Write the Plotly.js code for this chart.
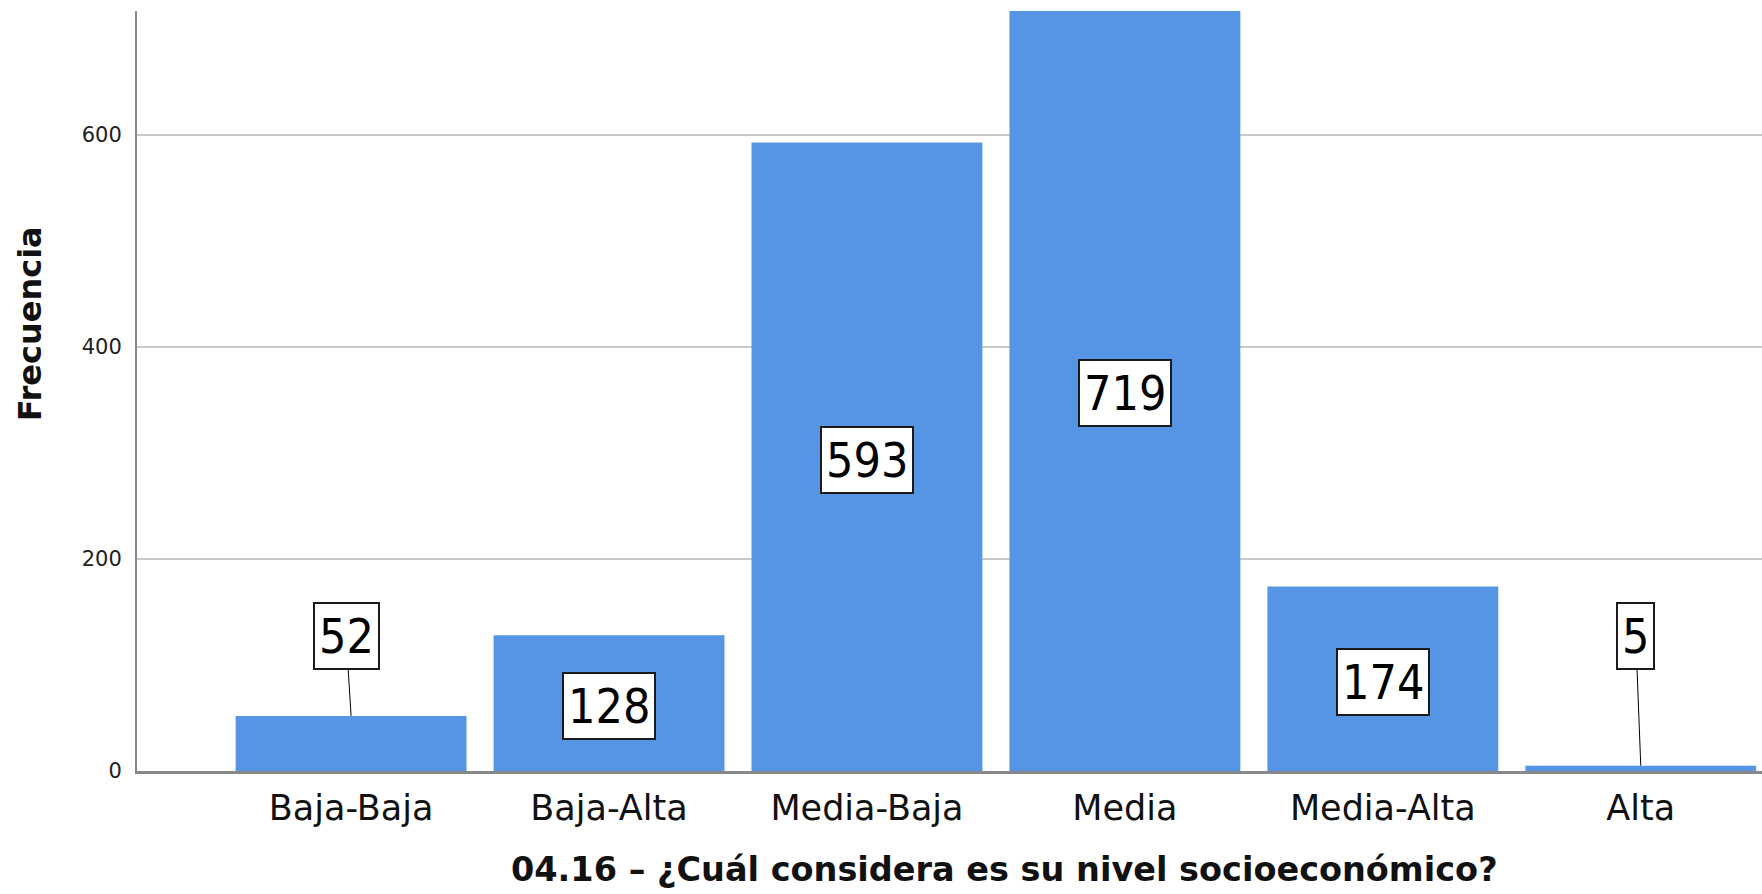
<!doctype html>
<html lang="es">
    <head>
        <meta charset="UTF-8" />
        <title>Nivel socioeconómico</title>
        <script src="https://cdn.plot.ly/plotly-3.0.1.min.js"></script>
        <style>
            body {
                margin: 0;
                background: white;
            }
        </style>
    </head>
    <body>
        <div id="chart"></div>
        <script>
            // Frecuencias por nivel socioeconómico
            const categories = [
                "Baja-Baja",
                "Baja-Alta",
                "Media-Baja",
                "Media",
                "Media-Alta",
                "Alta",
            ];
            const counts = [52, 128, 593, 719, 174, 5];
            const yTicks = [0, 200, 400, 600];

            const barColor = "#5695e3";
            const calloutY = 127; // small bars get their label lifted up here

            const trace = {
                x: categories,
                y: counts,
                type: "bar",
                marker: { color: barColor },
                hoverinfo: "x+y",
            };

            // value labels: inside the bar when it is tall enough, otherwise a callout
            const labels = categories.map((cat, i) => {
                const v = counts[i];
                const base = {
                    x: cat,
                    xref: "x",
                    yref: "y",
                    text: String(v),
                    font: {
                        family: "DejaVu Sans Condensed, DejaVu Sans",
                        size: 48,
                        color: "#000",
                    },
                    bgcolor: "white",
                    bordercolor: "#1a1a1a",
                    borderwidth: 2,
                    borderpad: 4,
                };
                if (v >= 100) {
                    return { ...base, y: v / 2, yshift: -3, showarrow: false };
                }
                return {
                    ...base,
                    y: v,
                    showarrow: true,
                    arrowhead: 0,
                    arrowwidth: 1,
                    arrowcolor: "#000",
                    ax: -5,
                    ayref: "y",
                    ay: calloutY,
                    standoff: 0,
                };
            });

            const layout = {
                width: 1762,
                height: 894,
                margin: { l: 137, r: 0, t: 11, b: 123 },
                paper_bgcolor: "white",
                plot_bgcolor: "white",
                bargap: 0.105,
                showlegend: false,
                xaxis: {
                    type: "category",
                    range: [-0.83, 5.47],
                    showline: true,
                    linecolor: "#888",
                    linewidth: 2.5,
                    showgrid: false,
                    ticks: "outside",
                    ticklen: 4,
                    tickcolor: "rgba(0,0,0,0)",
                    tickfont: { family: "DejaVu Sans", size: 35, color: "#111" },
                },
                yaxis: {
                    range: [0, 717],
                    tickvals: yTicks,
                    showline: true,
                    linecolor: "#888",
                    linewidth: 2,
                    showgrid: true,
                    gridcolor: "#c8c8c8",
                    gridwidth: 1.5,
                    zeroline: false,
                    ticks: "outside",
                    ticklen: 9,
                    tickcolor: "rgba(0,0,0,0)",
                    tickfont: { family: "DejaVu Sans", size: 21, color: "#222" },
                },
                annotations: labels.concat([
                    {
                        text: "Frecuencia",
                        xref: "paper",
                        yref: "paper",
                        x: -0.0657,
                        y: 0.588,
                        xanchor: "center",
                        yanchor: "middle",
                        textangle: -90,
                        showarrow: false,
                        font: { family: "DejaVu Sans", size: 32, color: "#111", weight: "bold" },
                    },
                    {
                        text: "04.16 – ¿Cuál considera es su nivel socioeconómico?",
                        xref: "paper",
                        yref: "paper",
                        x: 0.534,
                        y: -0.13,
                        xanchor: "center",
                        yanchor: "middle",
                        showarrow: false,
                        font: { family: "DejaVu Sans", size: 33.5, color: "#111", weight: "bold" },
                    },
                ]),
            };

            Plotly.newPlot("chart", [trace], layout, { displayModeBar: false });
        </script>
    </body>
</html>
